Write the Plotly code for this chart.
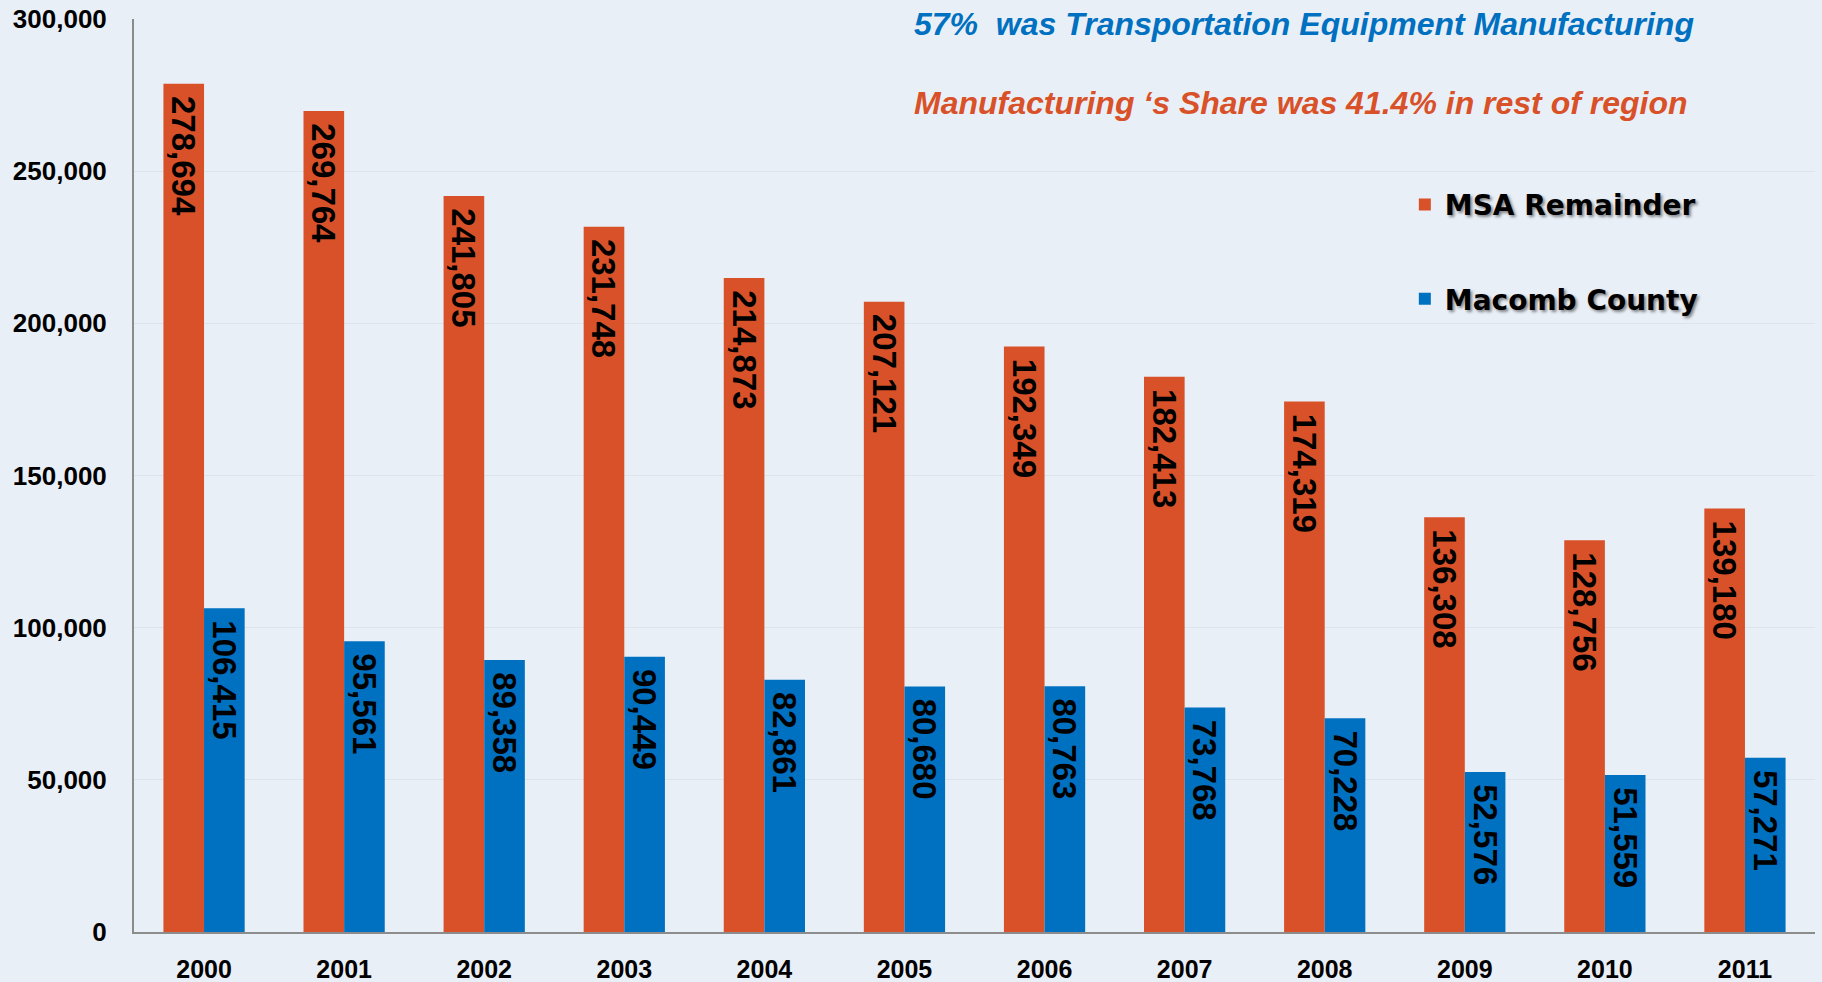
import plotly.graph_objects as go

years = ["2000", "2001", "2002", "2003", "2004", "2005", "2006", "2007", "2008", "2009", "2010", "2011"]
msa_remainder = [278694, 269764, 241805, 231748, 214873, 207121, 192349, 182413, 174319, 136308, 128756, 139180]
macomb_county = [106415, 95561, 89358, 90449, 82861, 80680, 80763, 73768, 70228, 52576, 51559, 57271]
y_ticks = [0, 50000, 100000, 150000, 200000, 250000, 300000]
y_tick_labels = ["0", "50,000", "100,000", "150,000", "200,000", "250,000", "300,000"]

ORANGE = "#D95128"
BLUE = "#0070C0"
BG = "#E9EFF6"
FONT = "Liberation Sans, Arial, sans-serif"

fig = go.Figure()
for name, vals, col in [("MSA Remainder", msa_remainder, ORANGE), ("Macomb County", macomb_county, BLUE)]:
    fig.add_trace(go.Bar(
        x=years, y=vals, name=name, legendgroup=name,
        marker=dict(color=col, line=dict(width=0)),
        texttemplate="\u00a0%{y:,}", textposition="inside", insidetextanchor="end",
        textangle=90, constraintext="none",
        textfont=dict(family=FONT, size=33, color="black", weight="bold"),
        hoverinfo="x+y+name",
    ))

fig.add_annotation(xref="paper", yref="paper", x=0.463, y=0.995, xanchor="left", yanchor="middle",
                   text="<b><i>57%  was Transportation Equipment Manufacturing</i></b>",
                   showarrow=False, font=dict(family=FONT, size=32, color=BLUE))
fig.add_annotation(xref="paper", yref="paper", x=0.463, y=0.908, xanchor="left", yanchor="middle",
                   text="<b><i>Manufacturing \u2018s Share was 41.4% in rest of region</i></b>",
                   showarrow=False, font=dict(family=FONT, size=32, color=ORANGE))

fig.update_layout(
    width=1822, height=982,
    margin=dict(l=134, r=7, t=19, b=50),
    paper_bgcolor=BG, plot_bgcolor=BG,
    barmode="group", bargap=0.42, bargroupgap=0,
    showlegend=True,
    legend=dict(x=0.756, y=0.824, xanchor="left", yanchor="top",
                traceorder="grouped", tracegroupgap=55, bgcolor="rgba(0,0,0,0)",
                font=dict(family="DejaVu Sans, sans-serif", size=28, color="black", weight="bold",
                          shadow="2px 2px 3px rgba(0,0,0,0.45)")),
    xaxis=dict(showline=True, linecolor="#8C8C8C", linewidth=2, showgrid=False, ticks="",
               tickfont=dict(family=FONT, size=25, color="black", weight="bold"),
               ticklabelstandoff=14, automargin=False),
    yaxis=dict(range=[0, 300000], tickvals=y_ticks, ticktext=y_tick_labels,
               showline=True, linecolor="#8C8C8C", linewidth=2,
               showgrid=True, gridcolor="#DEE4EC", gridwidth=1, zeroline=False, ticks="",
               tickfont=dict(family=FONT, size=26, color="black", weight="bold"),
               ticklabelstandoff=20, automargin=False),
    font=dict(family=FONT),
)

fig.write_html("out.html", config={"displayModeBar": False},
               post_script="document.body.style.margin='0';document.body.style.overflow='hidden';")
